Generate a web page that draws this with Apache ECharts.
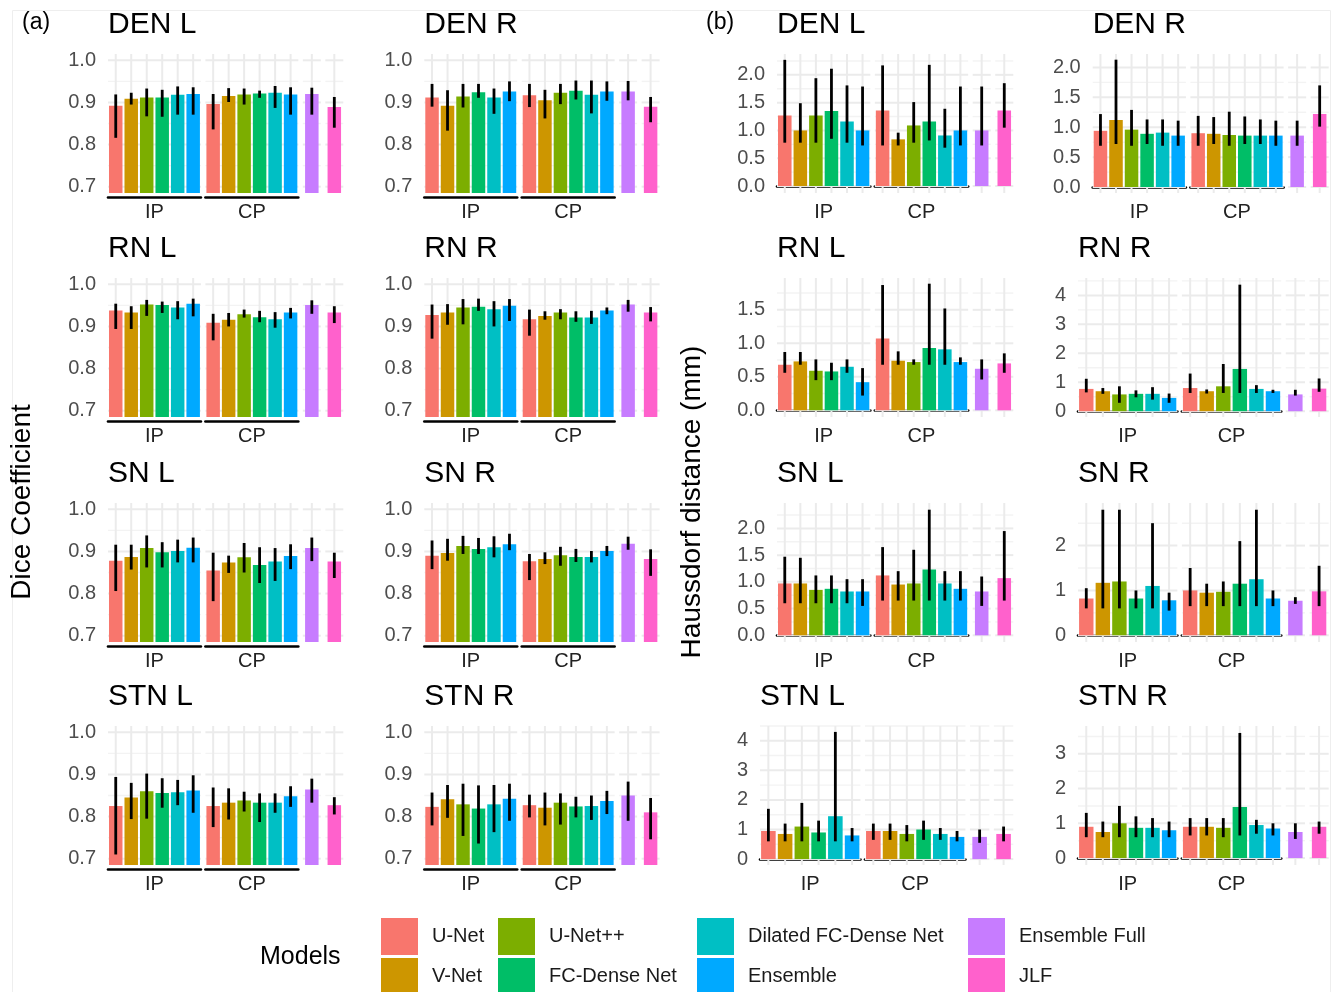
<!DOCTYPE html>
<html><head><meta charset="utf-8">
<script src="https://cdn.jsdelivr.net/npm/echarts@6/dist/echarts.min.js"></script>
<style>html,body{margin:0;padding:0;background:#fff}#c{width:1336px;height:992px}</style>
</head><body><div id="c"></div>
<script>
// ---------- categories ----------
const models = ['U-Net','V-Net','U-Net++','FC-Dense Net','Dilated FC-Dense Net','Ensemble','Ensemble Full','JLF'];
const groupLabels = ['IP','CP'];
const structures = ['DEN L','DEN R','RN L','RN R','SN L','SN R','STN L','STN R'];
// each row: [mean, low, high]; order: IP x6, CP x6, Ensemble Full, JLF
const dice_DEN_L = [[0.892,0.816,0.919],[0.909,0.895,0.923],[0.912,0.867,0.933],[0.912,0.866,0.930],[0.918,0.871,0.938],[0.920,0.871,0.936],
 [0.896,0.836,0.920],[0.915,0.901,0.934],[0.919,0.895,0.933],[0.921,0.911,0.928],[0.923,0.887,0.939],[0.919,0.871,0.936],
 [0.920,0.871,0.935],[0.889,0.840,0.913]];
const dice_DEN_R = [[0.912,0.890,0.944],[0.892,0.833,0.929],[0.914,0.888,0.944],[0.924,0.911,0.944],[0.912,0.873,0.933],[0.926,0.903,0.950],
 [0.917,0.889,0.944],[0.905,0.862,0.930],[0.923,0.896,0.944],[0.928,0.907,0.952],[0.918,0.874,0.952],[0.926,0.904,0.950],
 [0.926,0.905,0.951],[0.890,0.853,0.913]];
const dice_RN_L = [[0.938,0.894,0.954],[0.933,0.894,0.948],[0.952,0.925,0.963],[0.951,0.932,0.959],[0.945,0.917,0.960],[0.954,0.924,0.966],
 [0.909,0.867,0.930],[0.916,0.900,0.932],[0.929,0.921,0.940],[0.922,0.910,0.937],[0.917,0.897,0.934],[0.933,0.919,0.944],
 [0.951,0.930,0.962],[0.933,0.908,0.948]];
const dice_RN_R = [[0.927,0.871,0.952],[0.933,0.904,0.953],[0.945,0.905,0.965],[0.947,0.937,0.966],[0.941,0.900,0.960],[0.949,0.913,0.965],
 [0.917,0.878,0.940],[0.925,0.916,0.936],[0.933,0.917,0.941],[0.921,0.911,0.936],[0.921,0.906,0.937],[0.938,0.929,0.945],
 [0.952,0.935,0.963],[0.933,0.912,0.946]];
const dice_SN_L = [[0.878,0.806,0.916],[0.887,0.857,0.916],[0.908,0.862,0.938],[0.898,0.862,0.922],[0.901,0.874,0.928],[0.909,0.874,0.933],
 [0.855,0.782,0.897],[0.874,0.849,0.890],[0.886,0.850,0.920],[0.868,0.825,0.910],[0.876,0.830,0.908],[0.889,0.858,0.917],
 [0.908,0.877,0.933],[0.876,0.837,0.897]];
const dice_SN_R = [[0.890,0.858,0.926],[0.896,0.878,0.930],[0.913,0.894,0.937],[0.906,0.894,0.932],[0.910,0.886,0.936],[0.917,0.903,0.942],
 [0.877,0.832,0.894],[0.882,0.870,0.898],[0.891,0.866,0.911],[0.887,0.875,0.906],[0.887,0.874,0.901],[0.901,0.889,0.913],
 [0.918,0.904,0.935],[0.882,0.842,0.905]];
const dice_STN_L = [[0.825,0.710,0.894],[0.845,0.794,0.880],[0.860,0.795,0.902],[0.856,0.821,0.891],[0.858,0.827,0.887],[0.862,0.809,0.898],
 [0.825,0.775,0.869],[0.833,0.793,0.867],[0.838,0.812,0.859],[0.833,0.787,0.855],[0.833,0.809,0.855],[0.848,0.823,0.872],
 [0.864,0.833,0.890],[0.827,0.805,0.846]];
const dice_STN_R = [[0.823,0.779,0.857],[0.841,0.797,0.875],[0.829,0.754,0.878],[0.819,0.736,0.874],[0.829,0.763,0.875],[0.842,0.790,0.878],
 [0.827,0.798,0.852],[0.821,0.779,0.857],[0.833,0.781,0.855],[0.824,0.798,0.847],[0.825,0.792,0.850],[0.837,0.806,0.861],
 [0.850,0.790,0.883],[0.810,0.746,0.844]];
const hd_DEN_L = [[1.27,0.78,2.27],[1.00,0.78,1.49],[1.27,0.78,1.94],[1.35,0.85,2.11],[1.16,0.78,1.81],[1.00,0.73,1.79],
 [1.36,0.73,2.17],[0.84,0.73,0.96],[1.09,0.78,1.51],[1.16,0.82,2.18],[0.91,0.69,1.39],[1.00,0.73,1.79],
 [1.00,0.73,1.79],[1.36,1.05,1.85]];
const hd_DEN_R = [[0.94,0.69,1.22],[1.12,0.72,2.13],[0.96,0.69,1.29],[0.89,0.72,1.13],[0.91,0.69,1.13],[0.86,0.69,1.11],
 [0.90,0.69,1.19],[0.89,0.72,1.17],[0.87,0.69,1.26],[0.86,0.72,1.18],[0.86,0.72,1.13],[0.86,0.69,1.11],
 [0.86,0.69,1.11],[1.22,1.01,1.70]];
const hd_RN_L = [[0.68,0.56,0.87],[0.73,0.68,0.87],[0.59,0.45,0.76],[0.58,0.45,0.71],[0.65,0.56,0.76],[0.42,0.22,0.63],
 [1.07,0.68,1.87],[0.74,0.68,0.88],[0.72,0.68,0.76],[0.93,0.68,1.89],[0.91,0.68,1.52],[0.72,0.68,0.79],
 [0.62,0.46,0.76],[0.70,0.56,0.85]];
const hd_RN_R = [[0.77,0.65,1.12],[0.69,0.60,0.80],[0.58,0.29,0.86],[0.60,0.48,0.72],[0.60,0.40,0.83],[0.46,0.29,0.61],
 [0.80,0.63,1.30],[0.69,0.61,0.75],[0.86,0.63,1.63],[1.46,0.63,4.37],[0.77,0.63,0.90],[0.69,0.63,0.74],
 [0.58,0.54,0.74],[0.78,0.67,1.13]];
const hd_SN_L = [[0.97,0.60,1.47],[0.97,0.60,1.45],[0.85,0.60,1.12],[0.87,0.60,1.12],[0.82,0.60,1.05],[0.82,0.55,1.05],
 [1.12,0.65,1.65],[0.95,0.65,1.20],[0.97,0.65,1.60],[1.23,0.65,2.35],[0.97,0.65,1.20],[0.87,0.65,1.20],
 [0.82,0.55,1.10],[1.07,0.65,1.95]];
const hd_SN_R = [[0.82,0.60,1.05],[1.17,0.60,2.80],[1.20,0.60,2.80],[0.82,0.60,1.00],[1.10,0.60,2.50],[0.78,0.55,0.95],
 [1.00,0.65,1.50],[0.95,0.65,1.15],[0.97,0.65,1.20],[1.15,0.65,2.10],[1.25,0.65,2.80],[0.82,0.65,1.00],
 [0.77,0.70,0.85],[0.98,0.65,1.55]];
const hd_STN_L = [[0.95,0.60,1.70],[0.85,0.60,1.20],[1.10,0.60,1.90],[0.90,0.60,1.30],[1.45,0.60,4.30],[0.80,0.60,1.05],
 [0.95,0.65,1.20],[0.95,0.65,1.20],[0.85,0.60,1.15],[1.00,0.65,1.30],[0.85,0.65,1.05],[0.75,0.60,0.95],
 [0.75,0.55,1.00],[0.85,0.60,1.10]];
const hd_STN_R = [[0.90,0.60,1.30],[0.75,0.60,1.05],[1.00,0.60,1.50],[0.87,0.60,1.20],[0.87,0.60,1.15],[0.80,0.60,1.05],
 [0.90,0.65,1.15],[0.90,0.65,1.15],[0.87,0.60,1.15],[1.47,0.65,3.60],[0.95,0.70,1.10],[0.85,0.65,1.00],
 [0.75,0.55,1.00],[0.90,0.70,1.05]];
const diceSets = [dice_DEN_L,dice_DEN_R,dice_RN_L,dice_RN_R,dice_SN_L,dice_SN_R,dice_STN_L,dice_STN_R];
const hdSets = [hd_DEN_L,hd_DEN_R,hd_RN_L,hd_RN_R,hd_SN_L,hd_SN_R,hd_STN_L,hd_STN_R];
const diceTickStep = 0.1;
const hdTickSteps = [0.5,0.5,0.5,1,0.5,1,1,1];

// ---------- styles / layout ----------
const colors = ['#F8766D','#CD9600','#7CAE00','#00BE67','#00BFC4','#00A9FF','#C77CFF','#FF61CC'];
const FONT = '"Liberation Sans", Arial, sans-serif';
const rowTop = [54, 278, 503, 726], PH = 139;
const aLeft = [108, 424.3], aRight = [343.3, 659.6];
const bRight = [1013.3, 1328.7], bLeftDec = [777, 1092.7], bLeftInt = [760, 1078];

const grids = [], xAxes = [], yAxes = [], series = [], graphics = [];

function gridRender(params, api) {
  const cs = params.coordSys, kind = api.value(2);
  if (kind === 2) {
    const p = api.coord([api.value(0), api.value(1)]);
    return {type:'line', silent:true, shape:{x1:p[0], y1:cs.y, x2:p[0], y2:cs.y+cs.height}, style:{stroke:'#EBEBEB', lineWidth:2}};
  }
  const p = api.coord([0, api.value(1)]);
  return {type:'line', silent:true, shape:{x1:cs.x, y1:p[1], x2:cs.x+cs.width, y2:p[1]},
          style:{stroke: kind === 0 ? '#EBEBEB' : '#F3F3F3', lineWidth: kind === 0 ? 2 : 1.4}};
}
function errRender(params, api) {
  const a = api.coord([api.value(0), api.value(1)]), b = api.coord([api.value(0), api.value(2)]);
  return {type:'line', silent:true, shape:{x1:a[0], y1:a[1], x2:b[0], y2:b[1]}, style:{stroke:'#000', lineWidth:2.8}};
}

function addPanel(title, rows, left, right, top, ymin, ymax, fine, step, decimals, nonNeg) {
  const gap = 4.5, u = (right - left - 3*gap) / 14.8;
  const fx = [left, left+6.2*u+gap, left+12.4*u+2*gap, left+13.6*u+3*gap];
  const fw = [6.2*u, 6.2*u, 1.2*u, 1.2*u];
  const catSets = [models.slice(0,6), models.slice(0,6), [models[6]], [models[7]]];
  const idxSets = [[0,1,2,3,4,5],[6,7,8,9,10,11],[12],[13]];
  const colSets = [[0,1,2,3,4,5],[0,1,2,3,4,5],[6],[7]];
  const majors = [], minors = [];
  for (let k = Math.ceil(ymin/step - 1e-9); k*step <= ymax + 1e-9; k++) majors.push(+(k*step).toFixed(6));
  for (let k = Math.floor(ymin/step); (k+0.5)*step <= ymax; k++) { const v = (k+0.5)*step; if (v >= ymin) minors.push(+v.toFixed(6)); }
  graphics.push({type:'text', x:left, y:top-29, silent:true,
    style:{text:title, font:'30px '+FONT, fill:'#000', textAlign:'left', textVerticalAlign:'middle', align:'left', verticalAlign:'middle'}});
  for (let f = 0; f < 4; f++) {
    const g = grids.length;
    grids.push({left:fx[f], top:top, width:fw[f], height:PH, containLabel:false});
    const hasStrip = f < 2;
    xAxes.push({gridIndex:g, type:'category', data:catSets[f], offset:4,
      axisLabel:{show:false}, axisTick:{show:false}, splitLine:{show:false},
      axisLine:{show:hasStrip, lineStyle:{color:'#000', width:2.6}},
      name: hasStrip ? groupLabels[f] : '', nameLocation:'middle', nameGap:15,
      nameTextStyle:{fontSize:20, fontFamily:FONT, color:'#222', verticalAlign:'middle'}});
    yAxes.push({gridIndex:g, type:'value', min:ymin, max:ymax, interval:fine,
      axisLine:{show:false}, axisTick:{show:false}, splitLine:{show:false}, minorSplitLine:{show:false},
      axisLabel:{show: f === 0, fontSize:20, fontFamily:FONT, color:'#4D4D4D', margin:12,
        formatter: function(v){ const k = v/step; if (Math.abs(k - Math.round(k)) > 1e-6) return ''; if (nonNeg && v < -1e-9) return ''; return Math.abs(v) < 1e-9 ? (0).toFixed(decimals) : v.toFixed(decimals); }}});
    const gdata = [];
    majors.forEach(v => gdata.push([0, v, 0]));
    minors.forEach(v => gdata.push([0, v, 1]));
    catSets[f].forEach((c, j) => gdata.push([j, (ymin+ymax)/2, 2]));
    series.push({type:'custom', xAxisIndex:g, yAxisIndex:g, z:1, silent:true, clip:false,
      encode:{x:0, y:1}, data:gdata, renderItem:gridRender});
    series.push({type:'bar', xAxisIndex:g, yAxisIndex:g, z:2, silent:true, barWidth:0.9*u,
      data: idxSets[f].map((d, j) => ({value: rows[d][0], itemStyle:{color: colors[colSets[f][j]]}}))});
    series.push({type:'custom', xAxisIndex:g, yAxisIndex:g, z:4, silent:true, clip:false,
      encode:{x:0, y:[1,2]}, data: idxSets[f].map((d, j) => [j, rows[d][1], rows[d][2]]), renderItem:errRender});
  }
}

// (a) Dice panels
for (let i = 0; i < 8; i++) {
  const r = Math.floor(i/2), c = i % 2;
  addPanel(structures[i], diceSets[i], aLeft[c], aRight[c], rowTop[r], 0.685, 1.015, 0.005, diceTickStep, 1, false);
}
// (b) Hausdorff panels
for (let i = 0; i < 8; i++) {
  const r = Math.floor(i/2), c = i % 2, step = hdTickSteps[i], fine = step/20;
  const M = Math.max.apply(null, hdSets[i].map(d => d[2]));
  const ymin = -Math.round(0.05*M/fine)*fine, ymax = Math.round(1.05*M/fine)*fine;
  const left = step >= 1 ? bLeftInt[c] : bLeftDec[c];
  addPanel(structures[i], hdSets[i], left, bRight[c], rowTop[r], +ymin.toFixed(4), +ymax.toFixed(4), fine, step, step >= 1 ? 0 : 1, true);
}

// legend dummy series on hidden grid
const lg = grids.length;
grids.push({left:-200, top:-200, width:10, height:10, show:false});
xAxes.push({gridIndex:lg, type:'category', show:false, data:['x']});
yAxes.push({gridIndex:lg, type:'value', show:false});
models.forEach((m, k) => series.push({type:'bar', name:m, xAxisIndex:lg, yAxisIndex:lg, data:[], itemStyle:{color:colors[k]}}));

const legendX = [381, 381, 498, 498, 697, 697, 968, 968];
const legendY = [918, 958, 918, 958, 918, 958, 918, 958];
const legends = models.map((m, k) => ({
  data:[m], left:legendX[k], top:legendY[k], orient:'vertical', icon:'rect', itemWidth:37, itemHeight:37, itemGap:0, padding:0,
  selectedMode:false, textStyle:{fontSize:20, fontFamily:FONT, color:'#1a1a1a', padding:[0,0,0,9]}}));

// static texts
function txt(s, x, y, size) {
  graphics.push({type:'text', x:x, y:y, silent:true,
    style:{text:s, font:size+'px '+FONT, fill:'#000', textAlign:'left', textVerticalAlign:'middle', align:'left', verticalAlign:'middle'}});
}
txt('(a)', 22, 23, 23);
txt('(b)', 706, 23, 23);
graphics.push({type:'text', x:22, y:502, rotation:Math.PI/2, silent:true,
  style:{text:'Dice Coefficient', font:'28px '+FONT, fill:'#000', textAlign:'center', textVerticalAlign:'middle', align:'center', verticalAlign:'middle'}});
graphics.push({type:'text', x:692, y:502, rotation:Math.PI/2, silent:true,
  style:{text:'Haussdorf distance (mm)', font:'28px '+FONT, fill:'#000', textAlign:'center', textVerticalAlign:'middle', align:'center', verticalAlign:'middle'}});
txt('Models', 260, 957, 25);
graphics.push({type:'rect', silent:true, z:-10, shape:{x:12.5, y:10.5, width:1318, height:990}, style:{fill:null, stroke:'#EEEEEE', lineWidth:1}});

const chart = echarts.init(document.getElementById('c'), null, {renderer:'canvas'});
chart.setOption({
  animation:false, backgroundColor:'#fff',
  grid:grids, xAxis:xAxes, yAxis:yAxes, series:series, legend:legends, graphic:graphics
});
</script></body></html>
